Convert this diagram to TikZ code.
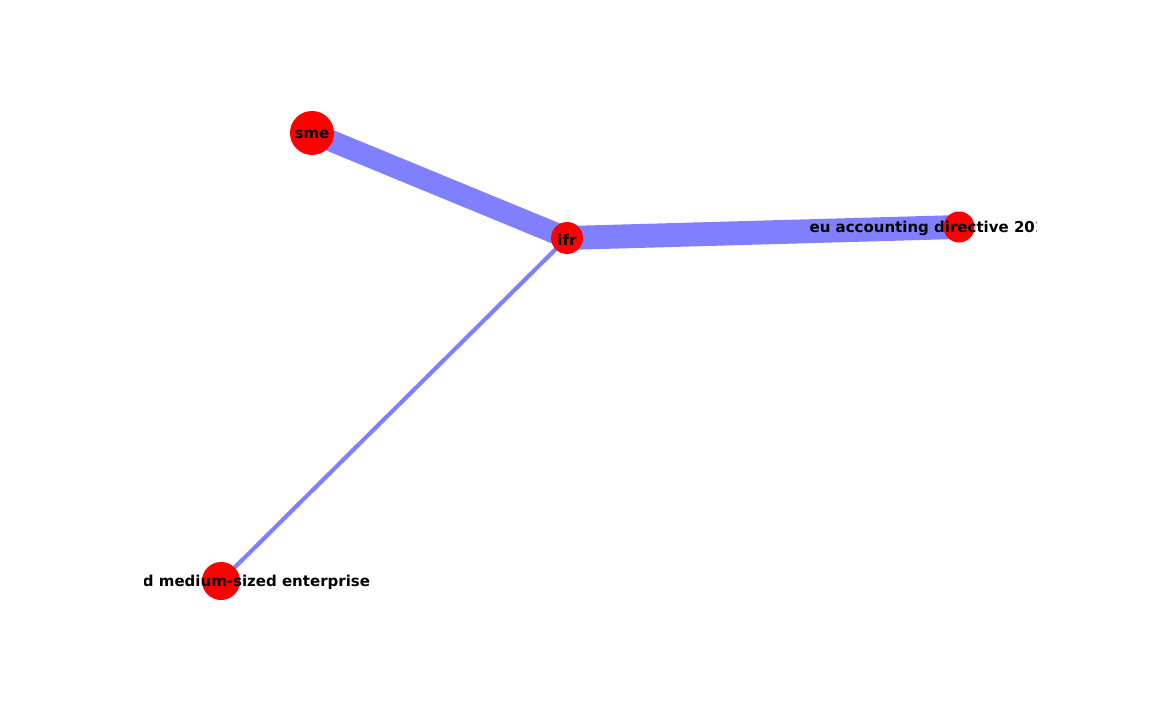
\documentclass[tikz,border=0pt]{standalone}
\usepackage{fontspec}
\setmainfont{DejaVu Sans}
\usepackage{tikz}
\usetikzlibrary{backgrounds}

\begin{document}
\begin{tikzpicture}[x=0.72pt,y=-0.72pt]
		\useasboundingbox (0,0) rectangle (1152,720);
		\begin{scope}[every node/.style={circle,fill=red,inner sep=0pt},
		              every label/.style={fill=none,font=\bfseries\fontsize{10.8pt}{13pt}\selectfont,text=black,inner sep=0pt,yshift=-1pt}]
		    \clip (144,86.4) rectangle (1036.8,633.6);
		    \node[minimum size=31.7pt,label=center:sme] (sme) at (312,133) {};
		    \node[minimum size=23pt,label=center:ifr] (ifr) at (567,238) {};
		    \node[minimum size=22.3pt,label=center:eu accounting directive 2013/34/eu] (eu) at (959,227) {};
		    \node[minimum size=27.4pt,label=center:small and medium-sized enterprise] (small) at (221,581) {};
		\end{scope}
		
		\begin{scope}[on background layer,
		              every edge/.style={draw=blue!50}]
		    	\path (sme.center) edge[line width=15.5pt] (ifr.center);
		    	\path (ifr.center) edge[line width=17.2pt] (eu.center);
		    	\path (ifr.center) edge[line width=3pt] (small.center);
		\end{scope}
		\end{tikzpicture}
\end{document}
